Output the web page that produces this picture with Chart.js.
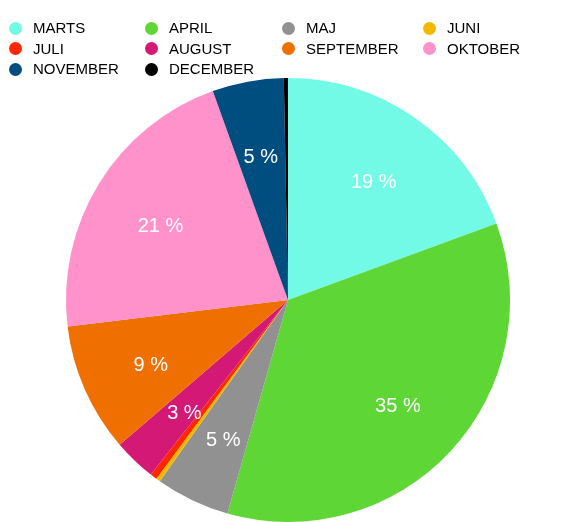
<!DOCTYPE html>
<html>
<head>
<meta charset="utf-8">
<script src="https://cdn.jsdelivr.net/npm/chart.js@4"></script>
<style>
  body { margin: 0; background: #fff; font-family: "Liberation Sans", Arial, sans-serif; }
  #wrap { position: relative; width: 567px; height: 522px; overflow: hidden; }
  #legend {
    position: absolute; left: 9px; top: 18px;
    display: grid; grid-template-columns: 136px 137px 141px 140px;
    font-size: 15px; line-height: 20.5px; color: #000;
  }
  .item { display: flex; align-items: center; white-space: nowrap; }
  .dot { width: 13px; height: 13px; border-radius: 50%; margin-right: 11px; flex: none; }
</style>
</head>
<body>
<div id="wrap">
  <canvas id="meuGraficoPizza" width="567" height="522"></canvas>
  <div id="legend"></div>
</div>
<script>
// dados
var meses = ["MARTS", "APRIL", "MAJ", "JUNI", "JULI", "AUGUST", "SEPTEMBER", "OKTOBER", "NOVEMBER", "DECEMBER"];
var valores = [19.4, 35.0, 5.4, 0.3, 0.5, 3.1, 9.4, 21.4, 5.2, 0.3];
var cores = ["#73FAE6", "#5ED636", "#919191", "#F5B800", "#FF2600", "#D31876", "#EF6F00", "#FF92CB", "#004D7F", "#000000"];

// legenda em html
var legenda = document.getElementById('legend');
meses.forEach(function (m, i) {
    var item = document.createElement('div');
    item.className = 'item';
    item.innerHTML = '<span class="dot" style="background:' + cores[i] + '"></span>' + m;
    legenda.appendChild(item);
});

// rotulos de porcentagem
var rotulos = {
    id: 'rotulos',
    afterDatasetsDraw: function (chart) {
        var ctx = chart.ctx;
        var meta = chart.getDatasetMeta(0);
        var total = valores.reduce(function (a, b) { return a + b; }, 0);
        ctx.save();
        ctx.fillStyle = '#fff';
        ctx.font = '20px "Liberation Sans", Arial, sans-serif';
        ctx.textAlign = 'center';
        ctx.textBaseline = 'middle';
        meta.data.forEach(function (arc, i) {
            var pct = valores[i] / total * 100;
            if (pct < 1) return;
            var p = arc.getProps(['x', 'y', 'startAngle', 'endAngle', 'outerRadius'], true);
            var meio = (p.startAngle + p.endAngle) / 2;
            var r = p.outerRadius * 0.675;
            ctx.fillText(Math.round(pct) + ' %', p.x + Math.cos(meio) * r, p.y + Math.sin(meio) * r + 5);
        });
        ctx.restore();
    }
};

var graficoPizza = document.getElementById('meuGraficoPizza').getContext('2d');

var pizza = new Chart(graficoPizza, {
    type: 'pie',
    data: {
        labels: meses,
        datasets: [
            {
                data: valores,
                backgroundColor: cores,
                borderWidth: 0,
            }
        ]
    },
    options: {
        responsive: false,
        animation: false,
        layout: { padding: { top: 78, left: 9 } },
        plugins: {
            legend: { display: false },
            tooltip: { enabled: false }
        }
    },
    plugins: [rotulos]
});
</script>
</body>
</html>
